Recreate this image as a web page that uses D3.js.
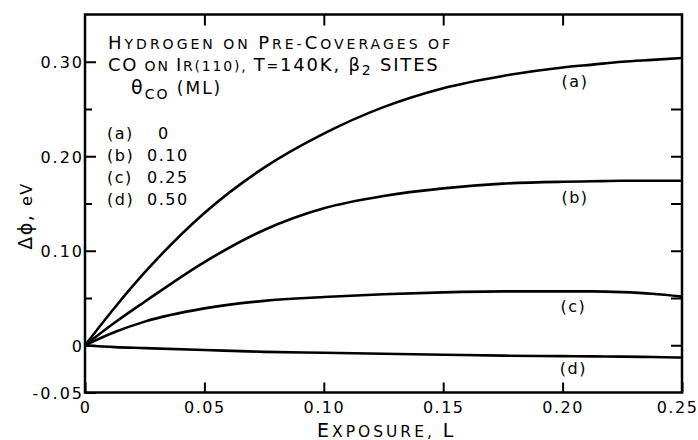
<!DOCTYPE html>
<html><head><meta charset="utf-8">
<script src="https://cdn.jsdelivr.net/npm/d3@7"></script>
<style>
html,body{margin:0;padding:0;background:#fff;}
svg text{font-family:"DejaVu Sans",sans-serif;fill:#000;}
</style></head>
<body><svg id="c" width="698" height="440"></svg>
<script>
// ---- data ----
const exposure = [0, 0.0125, 0.025, 0.05, 0.075, 0.10, 0.125, 0.15, 0.175, 0.20, 0.2125, 0.225, 0.2375, 0.25];
const dphiA = [0, 0.040, 0.077, 0.140, 0.188, 0.224, 0.252, 0.272, 0.285, 0.294, 0.297, 0.300, 0.302, 0.304];
const dphiB = [0, 0.024, 0.046, 0.088, 0.122, 0.145, 0.158, 0.166, 0.171, 0.173, 0.1735, 0.174, 0.174, 0.174];
const dphiC = [0, 0.014, 0.025, 0.039, 0.047, 0.051, 0.054, 0.056, 0.057, 0.057, 0.057, 0.0562, 0.0545, 0.0515];
const dphiD = [0, -0.002, -0.003, -0.005, -0.007, -0.008, -0.009, -0.010, -0.011, -0.0115, -0.0118, -0.012, -0.0125, -0.013];
const seriesNames = ["(a)", "(b)", "(c)", "(d)"];
const coverages = ["0", "0.10", "0.25", "0.50"];
const xTickValues = [0, 0.05, 0.10, 0.15, 0.20, 0.25];
const xTickLabels = ["0", "0.05", "0.10", "0.15", "0.20", "0.25"];
const yMajorValues = [-0.05, 0, 0.10, 0.20, 0.30];
const yMajorLabels = ["-0.05", "0", "0.10", "0.20", "0.30"];
const yMinorValues = [0.05, 0.15, 0.25];
const yRightValues = [0, 0.05, 0.10, 0.15, 0.20, 0.25];
const xTopValues = [0.05, 0.10, 0.15, 0.20];

const svg = d3.select("#c");
const x = d3.scaleLinear().domain([0, 0.25]).range([85, 682]);
const y = d3.scaleLinear().domain([-0.05, 0.35]).range([392.5, 14.5]);

// frame
svg.append("rect").attr("x", x(0)).attr("y", y(0.35)).attr("width", x(0.25) - x(0)).attr("height", y(-0.05) - y(0.35))
  .attr("fill", "none").attr("stroke", "#000").attr("stroke-width", 2.5);

// axes (ticks inward)
const fmtX = d => xTickLabels[xTickValues.indexOf(d)];
const fmtY = d => yMajorLabels[yMajorValues.indexOf(d)];
const gx = svg.append("g").attr("transform", `translate(0,${y(-0.05)})`)
  .call(d3.axisBottom(x).tickValues(xTickValues).tickFormat(fmtX).tickSizeInner(-10).tickSizeOuter(0).tickPadding(9));
const gy = svg.append("g").attr("transform", `translate(${x(0)},0)`)
  .call(d3.axisLeft(y).tickValues(yMajorValues).tickFormat(fmtY).tickSizeInner(-11).tickSizeOuter(0).tickPadding(1));
const gyMinor = svg.append("g").attr("transform", `translate(${x(0)},0)`)
  .call(d3.axisLeft(y).tickValues(yMinorValues).tickFormat("").tickSizeInner(-7).tickSizeOuter(0));
const gyR = svg.append("g").attr("transform", `translate(${x(0.25)},0)`)
  .call(d3.axisRight(y).tickValues(yRightValues).tickFormat("").tickSizeInner(-11).tickSizeOuter(0));
const gxT = svg.append("g").attr("transform", `translate(0,${y(0.35)})`)
  .call(d3.axisTop(x).tickValues(xTopValues).tickFormat("").tickSizeInner(-11).tickSizeOuter(0));
[gx, gy, gyMinor, gyR, gxT].forEach(a => {
  a.select(".domain").remove();
  a.selectAll(".tick line").attr("stroke", "#000").attr("stroke-width", 2);
  a.selectAll("text").attr("font-size", 16).attr("letter-spacing", 2).attr("font-family", "DejaVu Sans");
});
gx.selectAll(".tick text").attr("letter-spacing", 1.5).filter(d => d === 0.25).attr("dx", -5);
gy.selectAll(".tick text").attr("dy", "0.36em");

// curves
const line = d3.line().x(d => x(d[0])).y(d => y(d[1])).curve(d3.curveMonotoneX);
[dphiA, dphiB, dphiC, dphiD].forEach(vals => {
  svg.append("path").datum(exposure.map((e, i) => [e, vals[i]]))
    .attr("d", line).attr("fill", "none").attr("stroke", "#000").attr("stroke-width", 2.6);
});

// curve labels
const labelPos = [[0.2052, 0.2735], [0.2052, 0.1505], [0.2045, 0.035], [0.2045, -0.0304]];
seriesNames.forEach((n, i) => {
  svg.append("text").attr("x", x(labelPos[i][0])).attr("y", y(labelPos[i][1]))
    .attr("text-anchor", "middle").attr("font-size", 16).attr("letter-spacing", 1.5).text(n);
});

// small-caps helper: segments of [text, big, dy]
function sc(xp, yp, segs, big, small, ls) {
  const t = svg.append("text").attr("x", xp).attr("y", yp).attr("letter-spacing", ls);
  segs.forEach(s => {
    const ts = t.append("tspan").attr("font-size", s[1] ? big : small).text(s[0]);
    if (s[2]) ts.attr("dy", s[2]);
  });
  return t;
}
sc(108, 49, [["H",1],["YDROGEN ON ",0],["P",1],["RE-",0],["C",1],["OVERAGES OF",0]], 18, 14, 3);
sc(108, 71, [["CO",1],[" ON ",0],["I",1],["R",0],["(110)",0],[", ",0],["T",1],["=",0],["140K, ",1],["β",1],["2",0,4],[" SITES",1,-4]], 18, 14, 1.8);
const th = svg.append("text").attr("x", 131).attr("y", 94).attr("font-size", 19).attr("letter-spacing", 2);
th.append("tspan").text("θ");
th.append("tspan").attr("font-size", 14).attr("dy", 5).text("CO");
th.append("tspan").attr("dy", -5).attr("font-size", 17).text(" (ML)");

// legend lines
const legY = [139, 161, 183, 205];
seriesNames.forEach((n, i) => {
  svg.append("text").attr("x", 107).attr("y", legY[i]).attr("font-size", 16).attr("letter-spacing", 1.5).text(n);
  svg.append("text").attr("x", i === 0 ? 158 : 147).attr("y", legY[i]).attr("font-size", 16).attr("letter-spacing", 1.5).text(coverages[i]);
});

// axis titles
sc(317, 437, [["E",1],["XPOSURE, ",0],["L",1]], 19, 15.5, 3);
const yl = svg.append("text").attr("transform", "translate(32,216) rotate(-90)").attr("text-anchor", "middle").attr("letter-spacing", 1.5);
yl.append("tspan").attr("font-size", 19).text("Δϕ, ");
yl.append("tspan").attr("font-size", 16).text("eV");
</script></body></html>
